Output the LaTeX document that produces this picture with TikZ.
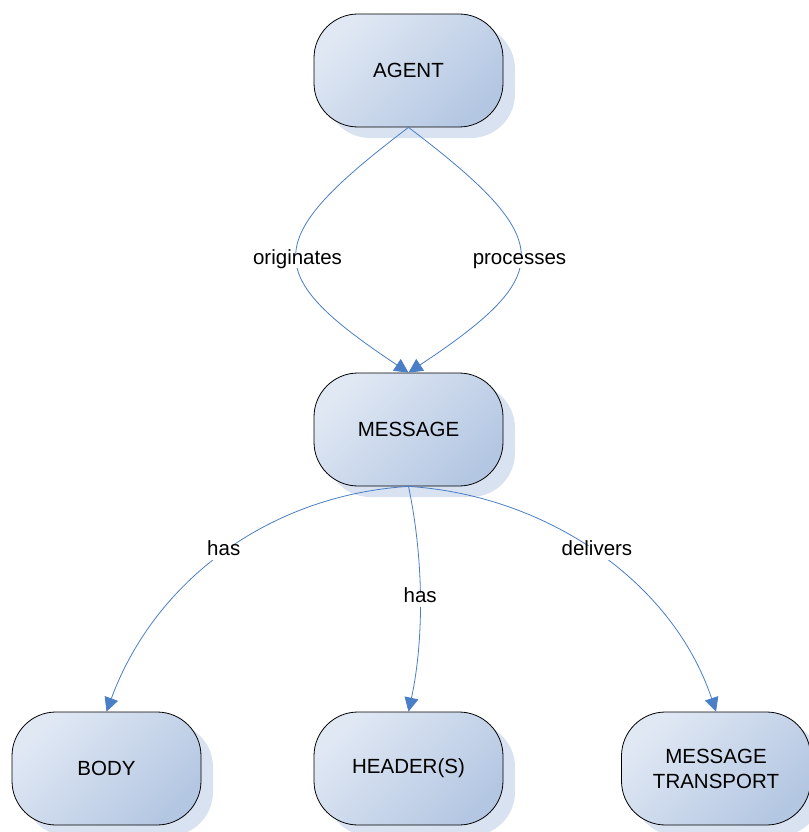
\documentclass[tikz,border=0pt]{standalone}
\usepackage{fontspec}
\setmainfont{Liberation Sans}
\usetikzlibrary{arrows.meta,shadows}
\definecolor{edgeblue}{HTML}{4A7EC6}
\definecolor{lightfill}{HTML}{E0E8F4}
\definecolor{darkfill}{HTML}{B4C7E2}
\definecolor{shadefill}{HTML}{D9E2F1}
\begin{document}
\begin{tikzpicture}[x=1pt,y=-1pt,
  concept/.style={draw=black, line width=0.8pt, rounded corners=44pt,
    minimum width=189pt, minimum height=113pt, align=center,
    font=\fontsize{20.5}{25}\selectfont,
    top color=lightfill, bottom color=darkfill, shading angle=45,
    drop shadow={shadow xshift=12pt, shadow yshift=-11pt, fill=shadefill, opacity=1}},
  link/.style={draw=edgeblue, line width=0.8pt, -{Triangle[length=14pt,width=14pt]}},
  lbl/.style={fill=white, inner sep=2pt, text height=0.75em, text depth=0.22em,
    font=\fontsize{20.5}{25}\selectfont}]
\useasboundingbox (0,0) rectangle (808,832);
\node[concept] (agent) at (408.5,70.5) {AGENT};
\node[concept] (message) at (408.5,429.5) {MESSAGE};
\node[concept] (body) at (106.5,768.5) {BODY};
\node[concept] (headers) at (408.5,768.5) {HEADER(S)};
\node[concept] (transport) at (716,768.5) {MESSAGE\\TRANSPORT};
\draw[link] (agent.south) .. controls (260,240) and (260,274) .. node[lbl, pos=0.53] {originates} (message.north);
\draw[link] (agent.south) .. controls (557,240) and (557,274) .. node[lbl, pos=0.53] {processes} (message.north);
\draw[link] (message.south) .. controls (270,495) and (155,580) .. node[lbl] {has} (body.north);
\draw[link] (message.south) .. controls (424,560) and (424,640) .. node[lbl] {has} (headers.north);
\draw[link] (message.south) .. controls (545,495) and (672,580) .. node[lbl] {delivers} (transport.north);
\end{tikzpicture}
\end{document}
